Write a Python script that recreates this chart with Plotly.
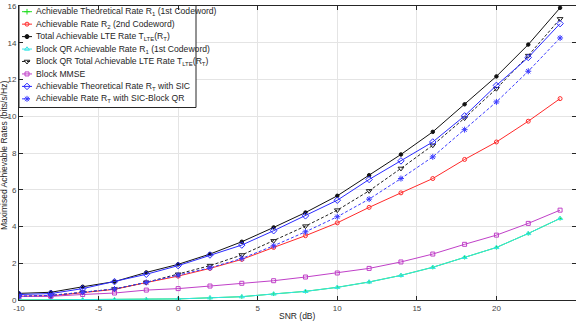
import plotly.graph_objects as go

snr = [-10, -8, -6, -4, -2, 0, 2, 4, 6, 8, 10, 12, 14, 16, 18, 20, 22, 24]

r1_theory = [0.0, 0.01, 0.01, 0.02, 0.03, 0.06, 0.12, 0.18, 0.33, 0.47, 0.69, 0.98, 1.34, 1.78, 2.32, 2.86, 3.62, 4.44]
r2 = [0.2, 0.22, 0.4, 0.58, 0.95, 1.3, 1.72, 2.21, 2.86, 3.5, 4.2, 5.04, 5.83, 6.61, 7.65, 8.6, 9.73, 10.96]
total_lte = [0.36, 0.42, 0.72, 1.0, 1.5, 1.94, 2.5, 3.17, 3.95, 4.76, 5.67, 6.79, 7.92, 9.15, 10.65, 12.17, 13.9, 15.9]
bqr_r1 = [0.0, 0.01, 0.01, 0.02, 0.03, 0.06, 0.12, 0.18, 0.33, 0.47, 0.69, 0.98, 1.34, 1.78, 2.32, 2.86, 3.62, 4.44]
bqr_total = [0.2, 0.25, 0.42, 0.6, 0.96, 1.4, 1.87, 2.45, 3.22, 4.02, 4.89, 5.94, 7.16, 8.42, 9.9, 11.5, 13.3, 15.3]
block_mmse = [0.2, 0.2, 0.3, 0.38, 0.54, 0.62, 0.76, 0.91, 1.05, 1.25, 1.47, 1.72, 2.07, 2.5, 3.03, 3.53, 4.17, 4.89]
sic_theory = [0.3, 0.35, 0.62, 1.0, 1.4, 1.87, 2.45, 2.99, 3.77, 4.58, 5.43, 6.56, 7.57, 8.6, 10.02, 11.68, 13.2, 15.04]
sic_bqr = [0.2, 0.25, 0.42, 0.6, 0.96, 1.35, 1.75, 2.26, 2.95, 3.71, 4.53, 5.49, 6.61, 7.79, 9.27, 10.78, 12.45, 14.26]

x_ticks = [-10, -5, 0, 5, 10, 15, 20, 25]
x_ticktext = ["-10", "-5", "0", "5", "10", "15", "20", "25"]
y_ticks = [0, 2, 4, 6, 8, 10, 12, 14, 16]

names = [
    "Achievable Theoretical Rate R<sub>1</sub> (1st Codeword)",
    "Achievable Rate R<sub>2</sub> (2nd Codeword)",
    "Total Achievable LTE Rate T<sub>LTE</sub>(R<sub>T</sub>)",
    "Block QR Achievable Rate R<sub>1</sub> (1st Codeword)",
    "Block QR Total Achievable LTE Rate T<sub>LTE</sub>(R<sub>T</sub>)",
    "Block MMSE",
    "Achievable Theoretical Rate R<sub>T</sub> with SIC",
    "Achievable Rate R<sub>T</sub> with SIC-Block QR",
]
series = [r1_theory, r2, total_lte, bqr_r1, bqr_total, block_mmse, sic_theory, sic_bqr]
colors = ["#22dd22", "#ff2a2a", "#111111", "#33e6e6", "#222222", "#c040c8", "#2a2aff", "#3a3aff"]
symbols = ["cross-thin-open", "circle-open", "circle", "triangle-up-open", "triangle-down-open",
           "square-open", "diamond-open", "asterisk-open"]
dashes = ["solid", "solid", "solid", "solid", "3px,2px", "solid", "solid", "3px,2px"]
msizes = [3, 4, 3.5, 4.5, 5, 4, 5, 5]

# layout geometry (pixels)
W, H = 576, 322
L, R, T, B = 19, 0, 6, 22
XR = [-10, 25]
YR = [0, 16]
pw, ph = W - L - R, H - T - B


def px2x(px):
    return XR[0] + (px - L) * (XR[1] - XR[0]) / pw


def py2y(py):
    return YR[1] - (py - T) * (YR[1] - YR[0]) / ph


fig = go.Figure()
for n, y, c, s, d, ms in zip(names, series, colors, symbols, dashes, msizes):
    fig.add_trace(go.Scatter(
        x=snr, y=y, name=n, mode="lines+markers", showlegend=False,
        line=dict(color=c, width=1, dash=d),
        marker=dict(symbol=s, size=ms, color=c, line=dict(color=c, width=1)),
    ))

font = "Liberation Sans, Arial, Helvetica, sans-serif"

# custom compact legend (MATLAB style)
leg_left, leg_right, leg_top, leg_bot = 19, 196, 5, 107.5
fig.add_shape(type="rect", xref="x", yref="y", layer="between",
              x0=px2x(leg_left), x1=px2x(leg_right), y0=py2y(leg_bot), y1=py2y(leg_top),
              fillcolor="white", line=dict(color="#262626", width=1))
for i, (n, c, s, d, ms) in enumerate(zip(names, colors, symbols, dashes, msizes)):
    cy = py2y(11.7 + 12.45 * i)
    fig.add_trace(go.Scatter(
        x=[px2x(22), px2x(32)], y=[cy, cy], mode="lines", showlegend=False,
        line=dict(color=c, width=1, dash=d), hoverinfo="skip", cliponaxis=False))
    fig.add_trace(go.Scatter(
        x=[px2x(27)], y=[cy], mode="markers", showlegend=False, hoverinfo="skip",
        marker=dict(symbol=s, size=max(ms, 4), color=c, line=dict(color=c, width=1)),
        cliponaxis=False))
    fig.add_annotation(text=n, x=px2x(33.5), y=cy, xref="x", yref="y",
                       xanchor="left", yanchor="middle", showarrow=False,
                       font=dict(size=8.6, color="#262626", family=font))

fig.update_layout(
    width=W, height=H,
    margin=dict(l=L, r=R, t=T, b=B),
    paper_bgcolor="white", plot_bgcolor="white",
    font=dict(family=font, size=8, color="#262626"),
    showlegend=False,
    xaxis=dict(range=XR, tickvals=x_ticks, ticktext=x_ticktext,
               showgrid=True, gridcolor="#e4e4e4", gridwidth=1,
               ticks="inside", ticklen=4, tickcolor="#262626",
               showline=True, linecolor="#262626", linewidth=1, mirror="ticks",
               zeroline=False, tickfont=dict(size=8, color="#444444")),
    yaxis=dict(range=YR, tickvals=y_ticks,
               showgrid=True, gridcolor="#e4e4e4", gridwidth=1,
               ticks="inside", ticklen=4, tickcolor="#262626",
               showline=True, linecolor="#262626", linewidth=1, mirror="ticks",
               zeroline=False, tickfont=dict(size=8, color="#444444")),
)
fig.add_annotation(text="SNR (dB)", x=(297 - L) / pw, y=(H - B - 316.5) / ph,
                   xref="paper", yref="paper", yanchor="middle",
                   showarrow=False, font=dict(size=8.5, color="#262626"))
fig.add_annotation(text="Maximised Achievable Rates (bits/s/Hz)", textangle=-90,
                   x=(4 - L) / pw, y=(H - B - 156) / ph, xref="paper", yref="paper",
                   xanchor="center", yanchor="middle",
                   showarrow=False, font=dict(size=8.5, color="#262626"))

fig.write_html("out.html")
